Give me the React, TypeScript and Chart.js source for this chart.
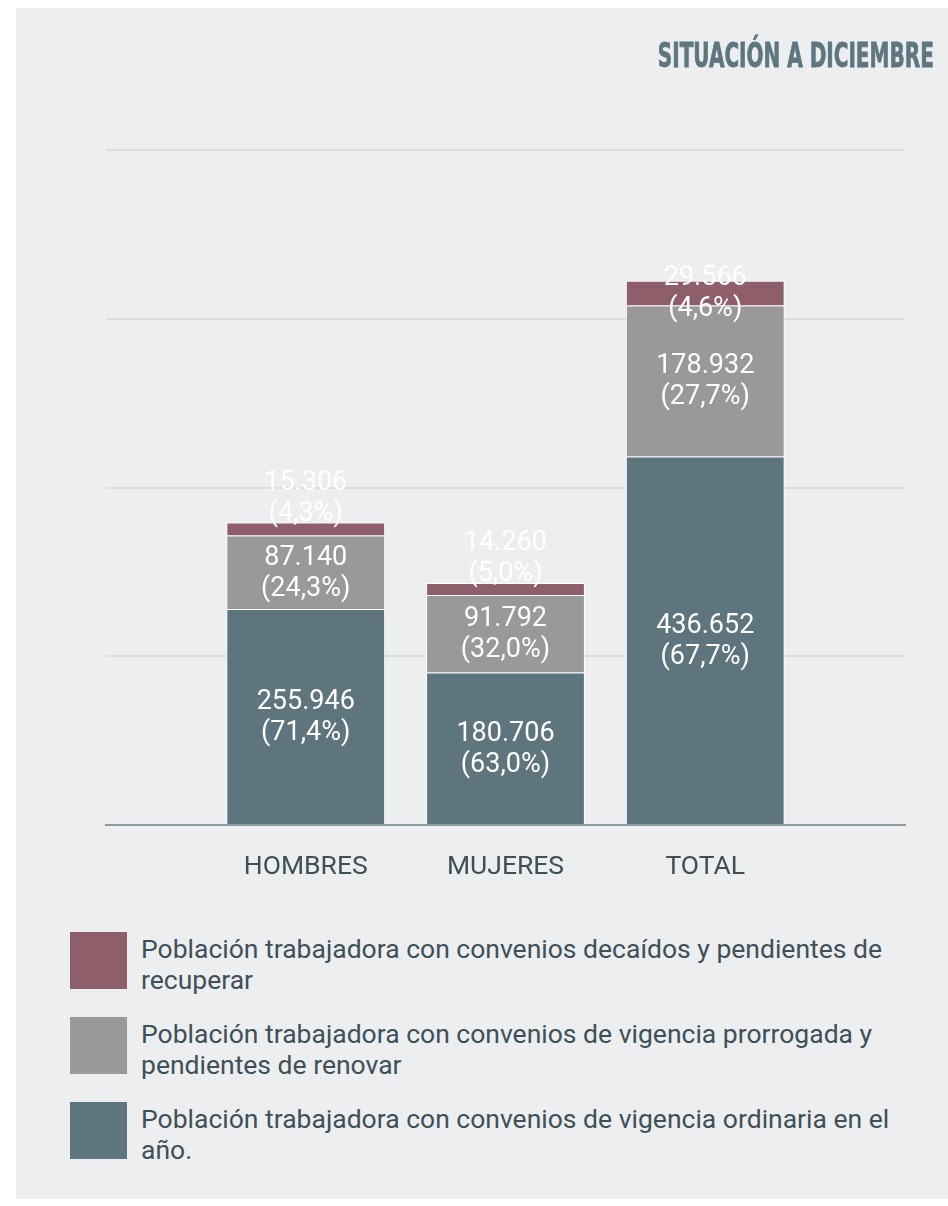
import React, { useEffect, useLayoutEffect, useRef } from "react";
import { Chart, registerables } from "chart.js";

Chart.register(...registerables);

// ---- Data ----
const categories = ["HOMBRES", "MUJERES", "TOTAL"];
const vigenciaOrdinaria = [255946, 180706, 436652];
const vigenciaProrrogada = [87140, 91792, 178932];
const decaidosPendientes = [15306, 14260, 29566];
const yTickValues = [0, 200000, 400000, 600000, 800000];

const titleText = "SITUACIÓN A DICIEMBRE";
const legendItems = [
  {
    color: "#8F5E6B",
    lines: ["Población trabajadora con convenios decaídos y pendientes de", "recuperar"],
  },
  {
    color: "#9A9898",
    lines: ["Población trabajadora con convenios de vigencia prorrogada y", "pendientes de renovar"],
  },
  {
    color: "#5E757E",
    lines: ["Población trabajadora con convenios de vigencia ordinaria en el", "año."],
  },
];

const COLOR_TEAL = "#5E757E";
const COLOR_GRAY = "#9A9898";
const COLOR_RED = "#8F5E6B";
const BG = "#EDEEF0";

function fmtThousands(v: number): string {
  return String(v).replace(/\B(?=(\d{3})+(?!\d))/g, ".");
}

const segmentLabelsPlugin = {
  id: "segmentLabels",
  afterDatasetsDraw(chart: any) {
    const ctx = chart.ctx;
    const datasets = chart.data.datasets;
    ctx.save();
    ctx.fillStyle = "#FFFFFF";
    ctx.font = "27px Roboto";
    ctx.textAlign = "center";
    ctx.textBaseline = "middle";
    datasets.forEach((ds: any, di: number) => {
      const meta = chart.getDatasetMeta(di);
      meta.data.forEach((el: any, i: number) => {
        const v = ds.data[i];
        if (v == null) return;
        let total = 0;
        datasets.forEach((d: any) => {
          total += d.data[i] || 0;
        });
        const pct = ((v / total) * 100).toFixed(1).replace(".", ",");
        const { x, y, base } = el.getProps(["x", "y", "base"], true);
        const top = Math.min(y, base);
        const bottom = Math.max(y, base);
        let cy = (top + bottom) / 2 + 1;
        if (bottom - top < 20) cy -= 31;
        const lh = 31;
        ctx.fillText(fmtThousands(v), x, cy - lh / 2);
        ctx.fillText("(" + pct + "%)", x, cy + lh / 2);
      });
    });
    ctx.restore();
  },
};

function TitleText() {
  const ref = useRef<HTMLSpanElement>(null);
  useLayoutEffect(() => {
    const el = ref.current;
    if (!el) return;
    const fit = () => {
      el.style.transform = "none";
      const w = el.getBoundingClientRect().width;
      if (w > 0) el.style.transform = `scaleX(${276 / w})`;
    };
    fit();
    (document as any).fonts?.ready?.then(fit);
  }, []);
  return (
    <div
      style={{
        position: "absolute",
        right: 14,
        top: 30,
        whiteSpace: "nowrap",
      }}
    >
      <span
        ref={ref}
        style={{
          display: "inline-block",
          fontFamily: '"Liberation Sans Narrow", "DejaVu Sans Condensed", "Liberation Sans", sans-serif',
          fontWeight: 700,
          fontSize: 34,
          lineHeight: 1,
          color: "#5E7680",
          transformOrigin: "right center",
          WebkitTextStroke: "0.8px #5E7680",
        }}
      >
        {titleText}
      </span>
    </div>
  );
}

export default function App() {
  const canvasRef = useRef<HTMLCanvasElement>(null);

  useEffect(() => {
    const canvas = canvasRef.current;
    if (!canvas) return;
    const labels = ["", ...categories, ""];
    const pad = (arr: number[]) => [null, ...arr, null];
    const chart = new Chart(canvas, {
      type: "bar",
      data: {
        labels,
        datasets: [
          {
            label: legendItems[2].lines.join(" "),
            data: pad(vigenciaOrdinaria) as any,
            backgroundColor: COLOR_TEAL,
            borderColor: "#FFFFFF",
            borderWidth: 1,
          },
          {
            label: legendItems[1].lines.join(" "),
            data: pad(vigenciaProrrogada) as any,
            backgroundColor: COLOR_GRAY,
            borderColor: "#FFFFFF",
            borderWidth: 1,
          },
          {
            label: legendItems[0].lines.join(" "),
            data: pad(decaidosPendientes) as any,
            backgroundColor: COLOR_RED,
            borderColor: "#FFFFFF",
            borderWidth: 1,
          },
        ],
      },
      options: {
        responsive: false,
        animation: false,
        devicePixelRatio: 1,
        layout: { padding: { left: 90, right: 43, top: 142, bottom: 0 } },
        datasets: {
          bar: { categoryPercentage: 1, barPercentage: 0.795 },
        },
        plugins: {
          legend: { display: false },
          tooltip: { enabled: false },
          title: { display: false },
        },
        scales: {
          x: {
            type: "category",
            stacked: true,
            offset: false,
            grid: { display: false, drawTicks: false },
            border: { display: true, color: "#8D9CA3", width: 2 },
            ticks: {
              autoSkip: false,
              maxRotation: 0,
              color: "#3F4F55",
              font: { family: "Roboto", size: 26.5 },
              padding: 26,
            },
            afterFit: (scale: any) => {
              scale.height = 70;
            },
          },
          y: {
            stacked: true,
            min: yTickValues[0],
            max: yTickValues[yTickValues.length - 1],
            afterBuildTicks: (scale: any) => {
              scale.ticks = yTickValues.map((v) => ({ value: v }));
            },
            ticks: { display: false, stepSize: 200000 },
            grid: { color: "#DCDDDF", lineWidth: 2, drawTicks: false },
            border: { display: false },
            afterFit: (scale: any) => {
              scale.width = 0;
            },
          },
        },
      },
      plugins: [segmentLabelsPlugin],
    });
    return () => chart.destroy();
  }, []);

  return (
    <div
      style={{
        position: "absolute",
        left: 16,
        top: 8,
        width: 932,
        height: 1191,
        background: BG,
        overflow: "hidden",
      }}
    >
      <canvas
        ref={canvasRef}
        width={932}
        height={887}
        style={{ position: "absolute", left: 0, top: 0, width: 932, height: 887 }}
      />
      <TitleText />
      {legendItems.map((item, idx) => (
        <div
          key={idx}
          style={{
            position: "absolute",
            left: 54,
            top: 924 + idx * 85,
            display: "flex",
            alignItems: "flex-start",
          }}
        >
          <div style={{ width: 57, height: 57, background: item.color, flex: "none" }} />
          <div
            style={{
              marginLeft: 14,
              marginTop: 1,
              fontFamily: "Roboto, sans-serif",
              fontSize: 26.5,
              lineHeight: "31px",
              color: "#3E5058",
              whiteSpace: "nowrap",
            }}
          >
            {item.lines.map((l, j) => (
              <div key={j}>{l}</div>
            ))}
          </div>
        </div>
      ))}
    </div>
  );
}
